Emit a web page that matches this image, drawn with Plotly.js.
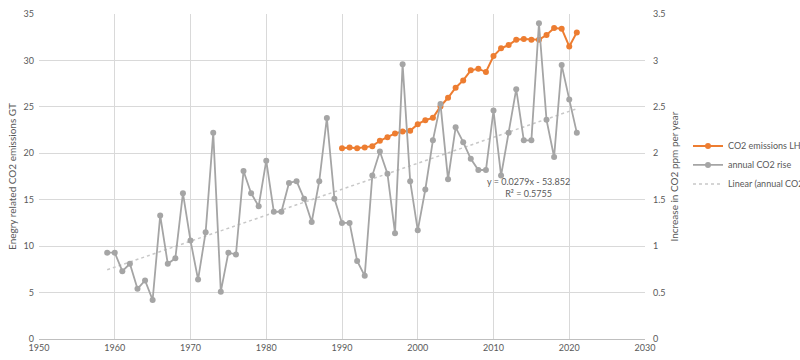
<!DOCTYPE html>
<html><head><meta charset="utf-8">
<script src="https://cdn.plot.ly/plotly-3.0.1.min.js"></script>
<style>body{margin:0;background:#fff;overflow:hidden}#c{width:800px;height:360px}</style>
</head><body><div id="c"></div>
<script>
// Annual rise in atmospheric CO2 (ppm per year), 1959-2021
const riseYears = [1959,1960,1961,1962,1963,1964,1965,1966,1967,1968,1969,1970,1971,1972,1973,1974,1975,1976,1977,1978,1979,1980,1981,1982,1983,1984,1985,1986,1987,1988,1989,1990,1991,1992,1993,1994,1995,1996,1997,1998,1999,2000,2001,2002,2003,2004,2005,2006,2007,2008,2009,2010,2011,2012,2013,2014,2015,2016,2017,2018,2019,2020,2021];
const riseValues = [0.93,0.93,0.73,0.81,0.54,0.63,0.42,1.33,0.81,0.87,1.57,1.06,0.64,1.15,2.22,0.51,0.93,0.91,1.81,1.57,1.43,1.92,1.37,1.37,1.68,1.70,1.51,1.26,1.70,2.38,1.51,1.25,1.25,0.84,0.68,1.76,2.02,1.78,1.14,2.96,1.70,1.17,1.61,2.14,2.53,1.72,2.28,2.12,1.94,1.82,1.82,2.46,1.76,2.22,2.69,2.14,2.14,3.40,2.36,1.96,2.95,2.58,2.22];
// Energy-related CO2 emissions (GT), 1990-2021
const emisYears = [1990,1991,1992,1993,1994,1995,1996,1997,1998,1999,2000,2001,2002,2003,2004,2005,2006,2007,2008,2009,2010,2011,2012,2013,2014,2015,2016,2017,2018,2019,2020,2021];
const emisValues = [20.55,20.63,20.55,20.63,20.77,21.35,21.74,22.14,22.35,22.42,23.14,23.57,23.82,25.05,25.98,27.06,27.85,28.93,29.11,28.75,30.47,31.30,31.66,32.23,32.30,32.23,32.23,32.74,33.49,33.42,31.51,33.02];
const xTicks = [1950,1960,1970,1980,1990,2000,2010,2020,2030];
const trendLabel = ["y = 0.0279x - 53.852", "R\u00b2 = 0.5755"];

// linear least-squares trendline of the annual rise (as the spreadsheet does)
const n = riseYears.length;
const mx = riseYears.reduce((a,b)=>a+b,0)/n;
const my = riseValues.reduce((a,b)=>a+b,0)/n;
let sxy=0, sxx=0;
for (let i=0;i<n;i++){ sxy+=(riseYears[i]-mx)*(riseValues[i]-my); sxx+=(riseYears[i]-mx)**2; }
const slope = sxy/sxx, icpt = my - slope*mx;
const trendX = [riseYears[0], riseYears[n-1]];
const trendY = trendX.map(x=>slope*x+icpt);

const gray='#A5A5A5', orange='#ED7D31', txt='#595959';
const F = "Lato, 'Open Sans', sans-serif";

const emis = {x: emisYears, y: emisValues, type:'scatter', mode:'lines+markers', name:'CO2 emissions LH axis',
  line:{color:orange,width:2}, marker:{color:orange,size:6}, yaxis:'y', legendrank:1};
const rise = {x: riseYears, y: riseValues, type:'scatter', mode:'lines+markers', name:'annual CO2 rise',
  line:{color:gray,width:1.8}, marker:{color:gray,size:6}, yaxis:'y2', legendrank:2};
const trend = {x: trendX, y: trendY, type:'scatter', mode:'lines', name:'Linear (annual CO2 rise)',
  line:{color:'#C8C8C8',width:1.5,dash:'dot'}, yaxis:'y2', legendrank:3};
const data = [emis, trend, rise];

const layout = {
 width:800, height:360, margin:{l:39,r:155,t:14,b:21,autoexpand:false},
 paper_bgcolor:'#fff', plot_bgcolor:'#fff',
 font:{family:F,size:9,color:txt},
 showlegend:true,
 legend:{xref:'container',yref:'container',x:0.86,y:0.635,xanchor:'left',yanchor:'top',
   font:{family:F,size:9,color:txt}, bgcolor:'rgba(0,0,0,0)', itemwidth:30, tracegroupgap:0},
 xaxis:{range:[1950,2030], tickvals:xTicks, ticktext:xTicks.map(String), showgrid:true, gridcolor:'#D9D9D9',
   zeroline:false, showline:true, linecolor:'#BFBFBF', ticks:'', automargin:false, tickfont:{family:F,size:9,color:txt}},
 yaxis:{range:[0,35], dtick:5, showgrid:true, gridcolor:'#D9D9D9', zeroline:false, showline:false, ticks:'',
   automargin:false, tickfont:{family:F,size:9,color:txt}, ticklabelstandoff:4,
   title:{text:'Enegry related CO2 emissions GT', font:{family:F,size:10,color:txt}, standoff:5}},
 yaxis2:{range:[0,3.5], dtick:0.5, overlaying:'y', side:'right', showgrid:false, zeroline:false, showline:false, ticks:'',
   automargin:false, tickfont:{family:F,size:9,color:txt}, ticklabelstandoff:7,
   title:{text:'Increase in CO2 ppm per year', font:{family:F,size:10,color:txt}, standoff:6}},
 annotations:[{x:2014.6, y:16.3, xref:'x', yref:'y', text:trendLabel.join('<br>'), showarrow:false,
   font:{family:F,size:9,color:txt}, align:'center'}]
};
Plotly.newPlot('c', data, layout, {displayModeBar:false, staticPlot:true});
</script></body></html>
